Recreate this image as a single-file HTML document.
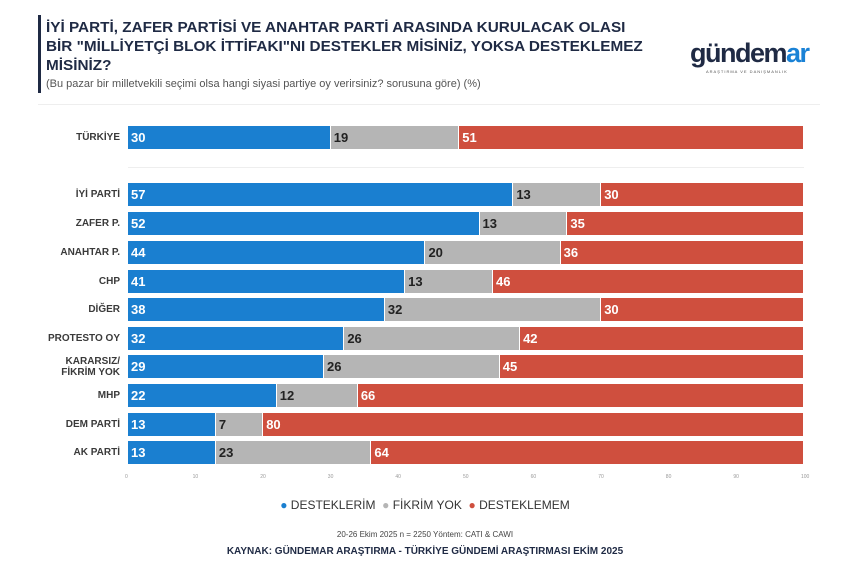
<!DOCTYPE html>
<html><head><meta charset="utf-8"><style>
body{margin:0;width:850px;height:574px;background:#fff;font-family:"Liberation Sans",sans-serif;position:relative;overflow:hidden}
.a{position:absolute;white-space:nowrap}
.t{left:46px;font-size:15px;font-weight:bold;color:#1f2a44;transform:scaleX(1.02);transform-origin:left}
.lab{right:730px;font-size:10px;font-weight:bold;color:#3a3a3a;text-align:right;line-height:11px}
.bar{position:absolute;height:23px}
.bar span{position:absolute;left:3px;top:4px;font-size:13px;font-weight:bold}
.tick{font-size:5px;color:#999;top:474px}
</style></head><body>
<div class="a" style="left:38px;top:15px;width:3px;height:78px;background:#1f2a44"></div>
<div class="a t" style="top:19px">İYİ PARTİ, ZAFER PARTİSİ VE ANAHTAR PARTİ ARASINDA KURULACAK OLASI</div>
<div class="a t" style="top:38px">BİR "MİLLİYETÇİ BLOK İTTİFAKI"NI DESTEKLER MİSİNİZ, YOKSA DESTEKLEMEZ</div>
<div class="a t" style="top:57px">MİSİNİZ?</div>
<div class="a" style="left:46px;top:78px;font-size:11px;color:#555">(Bu pazar bir milletvekili seçimi olsa hangi siyasi partiye oy verirsiniz? sorusuna göre) (%)</div>
<div class="a" style="left:690px;top:38px;font-size:27px;font-weight:bold;color:#1f2a44;letter-spacing:-1.5px">gündem<span style="color:#1a82d6">ar</span></div>
<div class="a" style="left:706px;top:69px;font-size:4px;color:#555;letter-spacing:1px">ARAŞTIRMA VE DANIŞMANLIK</div>
<div class="a" style="left:38px;top:104px;width:782px;height:1px;background:#eee"></div>
<div class="a" style="left:128px;top:167px;width:676px;height:1px;background:#eee"></div>
<div id="c"></div>
<div class="a" style="left:0;width:850px;text-align:center;top:498px;font-size:12px;color:#333">
<span style="color:#1a7fd0">●</span> DESTEKLERİM &nbsp;<span style="color:#b5b5b5">●</span> FİKRİM YOK &nbsp;<span style="color:#cf4f3e">●</span> DESTEKLEMEM</div>
<div class="a" style="left:0;width:850px;text-align:center;top:530px;font-size:8px;color:#444">20-26 Ekim 2025 n = 2250 Yöntem: CATI &amp; CAWI</div>
<div class="a" style="left:0;width:850px;text-align:center;top:546px;font-size:10px;font-weight:bold;color:#1f2a44">KAYNAK: GÜNDEMAR ARAŞTIRMA - TÜRKİYE GÜNDEMİ ARAŞTIRMASI EKİM 2025</div>
<script>
var d=[["TÜRKİYE",30,19,51,126],["İYİ PARTİ",57,13,30,183],["ZAFER P.",52,13,35,212],["ANAHTAR P.",44,20,36,241],["CHP",41,13,46,270],["DİĞER",38,32,30,298],["PROTESTO OY",32,26,42,327],["KARARSIZ/<br>FİKRİM YOK",29,26,45,355],["MHP",22,12,66,384],["DEM PARTİ",13,7,80,413],["AK PARTİ",13,23,64,441]];
var h="",x0=128,W=676,cols=["#1a7fd0","#b5b5b5","#cf4f3e"],tc=["#fff","#222","#fff"];
d.forEach(function(r){var y=r[4],x=x0;
var two=r[0].indexOf("<br>")>0;
h+='<div class="a lab" style="top:'+(y+(two?1:6))+'px">'+r[0]+'</div>';
for(var i=0;i<3;i++){var w=r[i+1]*W/100;h+='<div class="bar" style="left:'+x+'px;top:'+y+'px;width:'+(w-1)+'px;background:'+cols[i]+'"><span style="color:'+tc[i]+'">'+r[i+1]+'</span></div>';x+=w;}
});
for(var t=0;t<=100;t+=10){h+='<div class="a tick" style="left:'+(x0+t*W/100-3)+'px">'+t+'</div>';}
document.getElementById("c").innerHTML=h;
</script>
</body></html>
